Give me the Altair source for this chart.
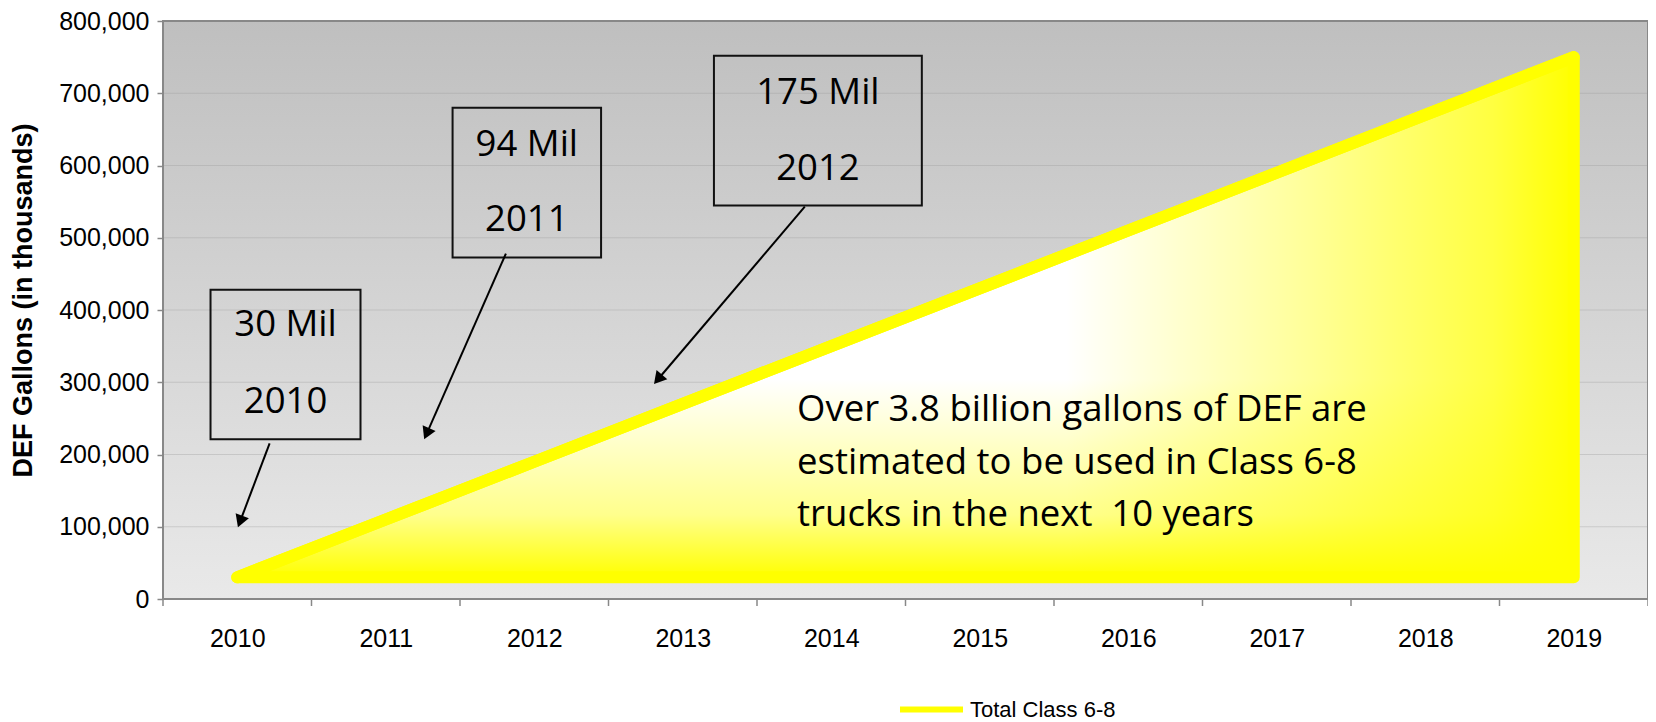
import altair as alt
import pandas as pd

# ---------------- data ----------------
YEARS = [2010, 2011, 2012, 2013, 2014, 2015, 2016, 2017, 2018, 2019]
GALLONS = [30000, 110000, 190000, 270000, 350000, 430000, 510000, 590000, 670000, 750000]
FLOOR = [30000, 30000, 30000, 30000, 30000, 30000, 30000, 30000, 30000, 30000]
SERIES = ["Total Class 6-8"] * 10

Y_TICKS = [0, 100000, 200000, 300000, 400000, 500000, 600000, 700000, 800000]
GRID_LINES = [100000, 200000, 300000, 400000, 500000, 600000, 700000]
X_TICK_EDGES = [2009.5, 2010.5, 2011.5, 2012.5, 2013.5, 2014.5, 2015.5, 2016.5, 2017.5, 2018.5, 2019.5]

BOX_LEFT = [2009.82, 2011.45, 2013.21]
BOX_RIGHT = [2010.83, 2012.45, 2014.61]
BOX_TOP = [428000, 680000, 752000]
BOX_BOTTOM = [221000, 472500, 544500]
BOX_CENTER = [2010.325, 2011.95, 2013.91]
BOX_AMOUNT = ["30 Mil", "94 Mil", "175 Mil"]
BOX_AMOUNT_Y = [378600, 628700, 700500]
BOX_YEAR = ["2010", "2011", "2012"]
BOX_YEAR_Y = [272200, 525000, 595500]

ARROW_FROM_X = [2010.218, 2011.809, 2013.822]
ARROW_FROM_Y = [215500, 478000, 543000]
ARROW_TO_X = [2010.024, 2011.281, 2012.842]
ARROW_TO_Y = [110000, 231400, 306200]
ARROW_ANGLE = [200.7, 203.8, 220.4]

NOTE_LINES = ["Over 3.8 billion gallons of DEF are",
              "estimated to be used in Class 6-8",
              "trucks in the next \u00a010 years"]
NOTE_X = [2013.77, 2013.77, 2013.77]
NOTE_Y = [261100, 187900, 116100]

# ---------------- tables ----------------
main = pd.DataFrame({"year": YEARS, "gallons": GALLONS, "floor": FLOOR, "series": SERIES})
grid_df = pd.DataFrame({"v": GRID_LINES})
edge_df = pd.DataFrame({"edge": X_TICK_EDGES})
box_df = pd.DataFrame({"x1": BOX_LEFT, "x2": BOX_RIGHT, "y1": BOX_TOP, "y2": BOX_BOTTOM,
                       "cx": BOX_CENTER, "amount": BOX_AMOUNT, "amount_y": BOX_AMOUNT_Y,
                       "yr": BOX_YEAR, "yr_y": BOX_YEAR_Y})
arrow_df = pd.DataFrame({"fx": ARROW_FROM_X, "fy": ARROW_FROM_Y, "tx": ARROW_TO_X,
                         "ty": ARROW_TO_Y, "ang": ARROW_ANGLE})
note_df = pd.DataFrame({"nx": NOTE_X, "ny": NOTE_Y, "txt": NOTE_LINES})
one = alt.Data(values=[{"k": 0}])

x_scale = alt.Scale(domain=[2009.5, 2019.5], nice=False, zero=False)
y_scale = alt.Scale(domain=[0, 800000], nice=False, zero=False)

AXIS_FONT = "Liberation Sans"
NOTE_FONT = "Open Sans"
NOTE_SIZE = 36.5

X_AXIS = alt.Axis(values=YEARS, format="d", title=None, grid=False, domain=False,
                  ticks=False, tickSize=0, labelFont=AXIS_FONT, labelFontSize=25,
                  labelColor="#000000", labelPadding=27, labelFlush=False,
                  labelOverlap=False)
Y_AXIS = alt.Axis(values=Y_TICKS, format=",d", title="DEF Gallons (in thousands)",
                  grid=False, domain=False, ticks=True, tickSize=6,
                  tickColor="#888888", tickWidth=1.5,
                  labelFont=AXIS_FONT, labelFontSize=25, labelColor="#000000",
                  labelPadding=8, labelOverlap=False,
                  titleFont=AXIS_FONT, titleFontSize=27, titleFontWeight="bold",
                  titleColor="#000000", titleAngle=270, titleX=-140, titleY=279,
                  titleAlign="center", titleBaseline="middle")


def X(field):
    return alt.X(field, type="quantitative", scale=x_scale, axis=X_AXIS)


def Y(field):
    return alt.Y(field, type="quantitative", scale=y_scale, axis=Y_AXIS)


# ---------------- layers ----------------
bg_grad = alt.Gradient(gradient="linear", x1=0, y1=0, x2=0, y2=1,
                       stops=[alt.GradientStop(offset=0, color="#bfbfbf"),
                              alt.GradientStop(offset=1, color="#e9e9e9")])
bg = alt.Chart(one).mark_rect(fill=bg_grad).encode(
    x=alt.value(0), x2=alt.value("width"), y=alt.value(0), y2=alt.value("height"))

grid = alt.Chart(grid_df).mark_rule(color="#9a9a9a", opacity=0.35, strokeWidth=1).encode(
    x=alt.value(0), x2=alt.value("width"), y=Y("v"))

fill_v = alt.Gradient(gradient="linear", x1=0, y1=0, x2=0, y2=1,
                      stops=[alt.GradientStop(offset=0, color="#ffffff"),
                             alt.GradientStop(offset=0.62, color="#ffffff"),
                             alt.GradientStop(offset=0.88, color="#ffff8c"),
                             alt.GradientStop(offset=1, color="#ffff00")])
fill_h = alt.Gradient(gradient="linear", x1=0, y1=0, x2=1, y2=0,
                      stops=[alt.GradientStop(offset=0, color="rgba(255,255,0,0)"),
                             alt.GradientStop(offset=0.62, color="rgba(255,255,0,0)"),
                             alt.GradientStop(offset=0.8, color="rgba(255,255,0,0.4)"),
                             alt.GradientStop(offset=0.94, color="rgba(255,255,0,0.75)"),
                             alt.GradientStop(offset=1, color="rgba(255,255,0,1)")])

area = alt.Chart(main).mark_area(fill=fill_v, stroke="#ffff00", strokeWidth=12,
                                 strokeJoin="round", opacity=1).encode(
    x=X("year"), y=Y("gallons"), y2="floor:Q")

overlay = alt.Chart(main).mark_area(fill=fill_h, opacity=1).encode(
    x=X("year"), y=Y("gallons"), y2="floor:Q")

line = alt.Chart(main).mark_line(strokeWidth=12, strokeCap="round", strokeJoin="round").encode(
    x=X("year"), y=Y("gallons"),
    color=alt.Color("series:N",
                    scale=alt.Scale(domain=["Total Class 6-8"], range=["#ffff00"]),
                    legend=alt.Legend(title=None, orient="none", legendX=734, legendY=654,
                                      symbolType="stroke", symbolSize=3969,
                                      symbolStrokeWidth=6, labelFont=AXIS_FONT,
                                      labelFontSize=22, labelColor="#000000",
                                      labelOffset=4, labelLimit=400, padding=0)))

xticks = alt.Chart(edge_df).mark_rule(color="#888888", strokeWidth=1.5).encode(
    x=X("edge"),
    y=alt.YDatum(0, axis=Y_AXIS, scale=y_scale),
    y2=alt.Y2Datum(-9700))

boxes = alt.Chart(box_df).mark_rect(fill="transparent", stroke="#111111", strokeWidth=2).encode(
    x=X("x1"), x2="x2:Q", y=Y("y1"), y2="y2:Q")

amount_txt = alt.Chart(box_df).mark_text(font=NOTE_FONT, fontSize=NOTE_SIZE, color="#000000",
                                         align="center", baseline="middle").encode(
    x=X("cx"), y=Y("amount_y"), text="amount:N")

year_txt = alt.Chart(box_df).mark_text(font=NOTE_FONT, fontSize=NOTE_SIZE, color="#000000",
                                       align="center", baseline="middle").encode(
    x=X("cx"), y=Y("yr_y"), text="yr:N")

arrow_lines = alt.Chart(arrow_df).mark_rule(color="#000000", strokeWidth=2).encode(
    x=X("fx"), x2="tx:Q", y=Y("fy"), y2="ty:Q")

arrow_heads = alt.Chart(arrow_df).mark_point(shape="triangle", filled=True, size=200,
                                             color="#000000", opacity=1).encode(
    x=X("tx"), y=Y("ty"), angle=alt.Angle("ang:Q", scale=None))

note = alt.Chart(note_df).mark_text(font=NOTE_FONT, fontSize=NOTE_SIZE, color="#000000",
                                    align="left", baseline="middle").encode(
    x=X("nx"), y=Y("ny"), text="txt:N")

border = alt.Chart(one).mark_rect(fill="transparent", stroke="#888888", strokeWidth=2).encode(
    x=alt.value(0), x2=alt.value("width"), y=alt.value(0), y2=alt.value("height"))

chart = alt.layer(bg, grid, area, overlay, line, xticks, boxes, amount_txt, year_txt,
                  arrow_lines, arrow_heads, note, border).properties(
    width=1485, height=578,
    padding={"left": 155, "top": 13, "right": 0, "bottom": 131},
    autosize=alt.AutoSizeParams(type="none"),
    background="white",
).configure_view(strokeWidth=0)

chart.save("out.html", embed_options={"renderer": "svg", "actions": False})
